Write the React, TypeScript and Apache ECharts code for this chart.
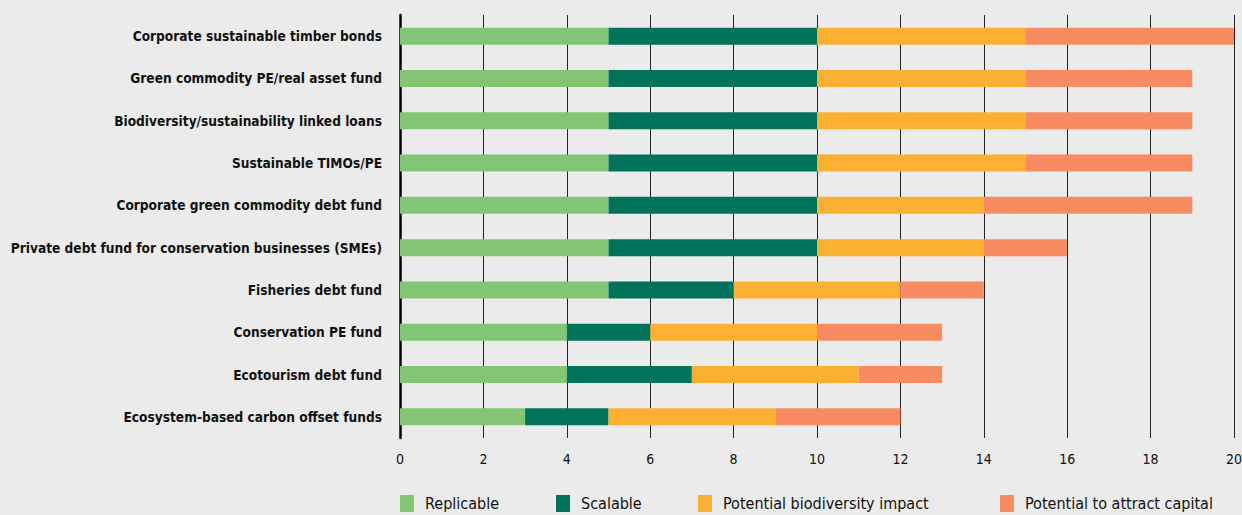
import React, { useEffect, useRef } from "react";
import * as echarts from "echarts";

const categories = [
  "Corporate sustainable timber bonds",
  "Green commodity PE/real asset fund",
  "Biodiversity/sustainability linked loans",
  "Sustainable TIMOs/PE",
  "Corporate green commodity debt fund",
  "Private debt fund for conservation businesses (SMEs)",
  "Fisheries debt fund",
  "Conservation PE fund",
  "Ecotourism debt fund",
  "Ecosystem-based carbon offset funds",
];
const replicable = [5, 5, 5, 5, 5, 5, 5, 4, 4, 3];
const scalable = [5, 5, 5, 5, 5, 5, 3, 2, 3, 2];
const biodiversity = [5, 5, 5, 5, 4, 4, 4, 4, 4, 4];
const attractCapital = [5, 4, 4, 4, 5, 2, 2, 3, 2, 3];
const seriesNames = ["Replicable", "Scalable", "Potential biodiversity impact", "Potential to attract capital"];
const seriesColors = ["#82c675", "#00735a", "#fbb034", "#f78c63"];
const legendLefts = [400, 556, 698, 1000];

const FONT = '"Liberation Sans Narrow", "DejaVu Sans Condensed", "Roboto Condensed", "Arial Narrow", sans-serif';

export default function App() {
  const ref = useRef<HTMLDivElement>(null);
  useEffect(() => {
    if (!ref.current) return;
    const chart = echarts.init(ref.current, null, { renderer: "svg" });
    const values = [replicable, scalable, biodiversity, attractCapital];
    chart.setOption({
      animation: false,
      backgroundColor: "#ebebeb",
      textStyle: { fontFamily: FONT },
      grid: { left: 400, right: 8, top: 15, bottom: 77, containLabel: false, outerBoundsMode: "none" },
      xAxis: {
        type: "value",
        min: 0,
        max: 20,
        interval: 2,
        axisLine: { show: false },
        axisTick: { show: false },
        splitLine: { show: true, lineStyle: { color: "#222", width: 1 } },
        axisLabel: { color: "#111", fontSize: 14, fontFamily: FONT, margin: 14 },
      },
      yAxis: {
        type: "category",
        inverse: true,
        data: categories,
        axisLine: { show: true, onZero: false, lineStyle: { color: "#000", width: 2.5 } },
        axisTick: { show: false },
        axisLabel: { color: "#111", fontSize: 13.6, fontWeight: "bold", fontFamily: FONT, margin: 18 },
      },
      legend: seriesNames.map((n, i) => ({
        data: [n],
        left: legendLefts[i],
        top: 495,
        padding: 0,
        itemWidth: 14,
        itemHeight: 17,
        itemGap: 10,
        icon: "rect",
        textStyle: { fontSize: 16, color: "#111", fontFamily: FONT, padding: [0, 0, 0, 6] },
      })),
      series: seriesNames.map((n, i) => ({
        name: n,
        type: "bar",
        stack: "total",
        barWidth: 17,
        data: values[i],
        itemStyle: { color: seriesColors[i] },
      })),
    });
    return () => chart.dispose();
  }, []);
  return <div ref={ref} style={{ width: 1242, height: 515, position: "absolute", left: 0, top: 0 }} />;
}
